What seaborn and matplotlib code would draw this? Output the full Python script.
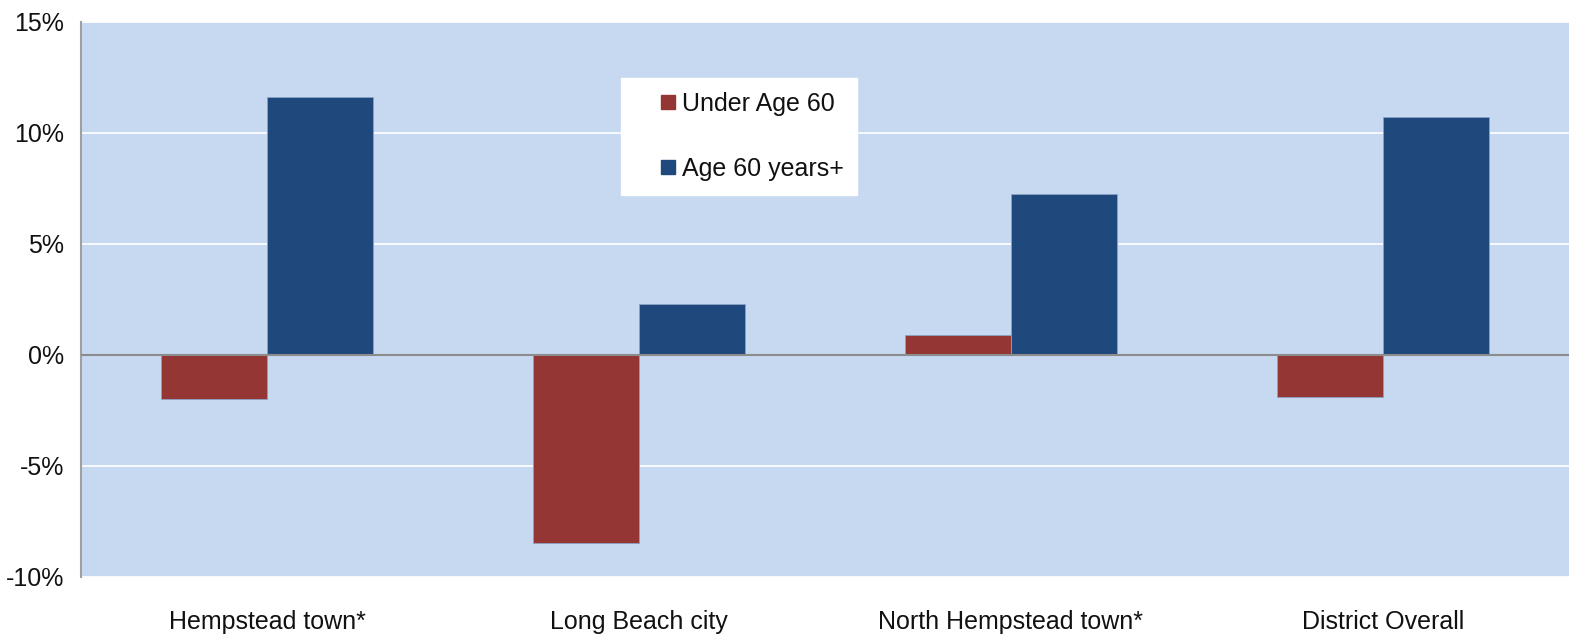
import seaborn as sns
import matplotlib.pyplot as plt
import pandas as pd
from matplotlib.lines import Line2D
from matplotlib.ticker import FuncFormatter, MultipleLocator

places = ['Hempstead town*', 'Long Beach city', 'North Hempstead town*', 'District Overall']
groups = ['Under Age 60', 'Age 60 years+']
under_60 = [-2.0, -8.45, 0.9, -1.9]
over_60 = [11.6, 2.3, 7.25, 10.7]

colors = {'Under Age 60': '#943634', 'Age 60 years+': '#1F497D'}

df = pd.DataFrame({
    'place': places * 2,
    'group': [groups[0]] * 4 + [groups[1]] * 4,
    'change': under_60 + over_60,
})

sns.set_style('white')
plt.rcParams['font.family'] = ['Liberation Sans Narrow', 'Liberation Sans', 'DejaVu Sans']

fig = plt.figure(figsize=(15.69, 6.37), dpi=100)
ax = fig.add_axes([0.0516, 0.0942, 0.9484, 0.8713])
ax.set_facecolor('#C6D9F1')

sns.barplot(data=df, x='place', y='change', hue='group', palette=colors,
            saturation=1, width=0.572, gap=0, ax=ax, errorbar=None, zorder=3,
            edgecolor='#8aa2c4', linewidth=0.6, legend=False)

ax.set_ylim(-10, 15)
ax.set_xlim(-0.5, 3.5)
ax.yaxis.set_major_locator(MultipleLocator(5))
ax.yaxis.set_major_formatter(FuncFormatter(lambda v, p: f'{v:.0f}%'))
ax.grid(axis='y', color='white', linewidth=1.2, zorder=0)
ax.set_axisbelow(True)
ax.axhline(0, color='#8c8c8c', linewidth=1.5, zorder=4)

for s in ['top', 'right', 'bottom']:
    ax.spines[s].set_visible(False)
ax.spines['left'].set_color('#a0a0a0')
ax.spines['left'].set_linewidth(1.5)

ax.set_xlabel('')
ax.set_ylabel('')
ax.tick_params(axis='both', length=0, labelsize=18, colors='#111111')
ax.tick_params(axis='x', pad=24)
ax.tick_params(axis='y', pad=12)

handles = [Line2D([], [], linestyle='none', marker='s', markersize=10,
                  markerfacecolor=colors[g], markeredgecolor=colors[g]) for g in groups]
leg = ax.legend(handles, groups, loc='upper left', bbox_to_anchor=(621 / 1569, 1 - 78 / 637),
                bbox_transform=fig.transFigure, frameon=True, fancybox=False,
                fontsize=18, handlelength=2.68, handletextpad=-0.8,
                labelspacing=1.65, borderpad=0.55, borderaxespad=0)
leg.get_frame().set_facecolor('white')
leg.get_frame().set_edgecolor('white')
leg.get_frame().set_alpha(1)
for t in leg.get_texts():
    t.set_color('#111111')

fig.savefig('out.png', dpi=100)
